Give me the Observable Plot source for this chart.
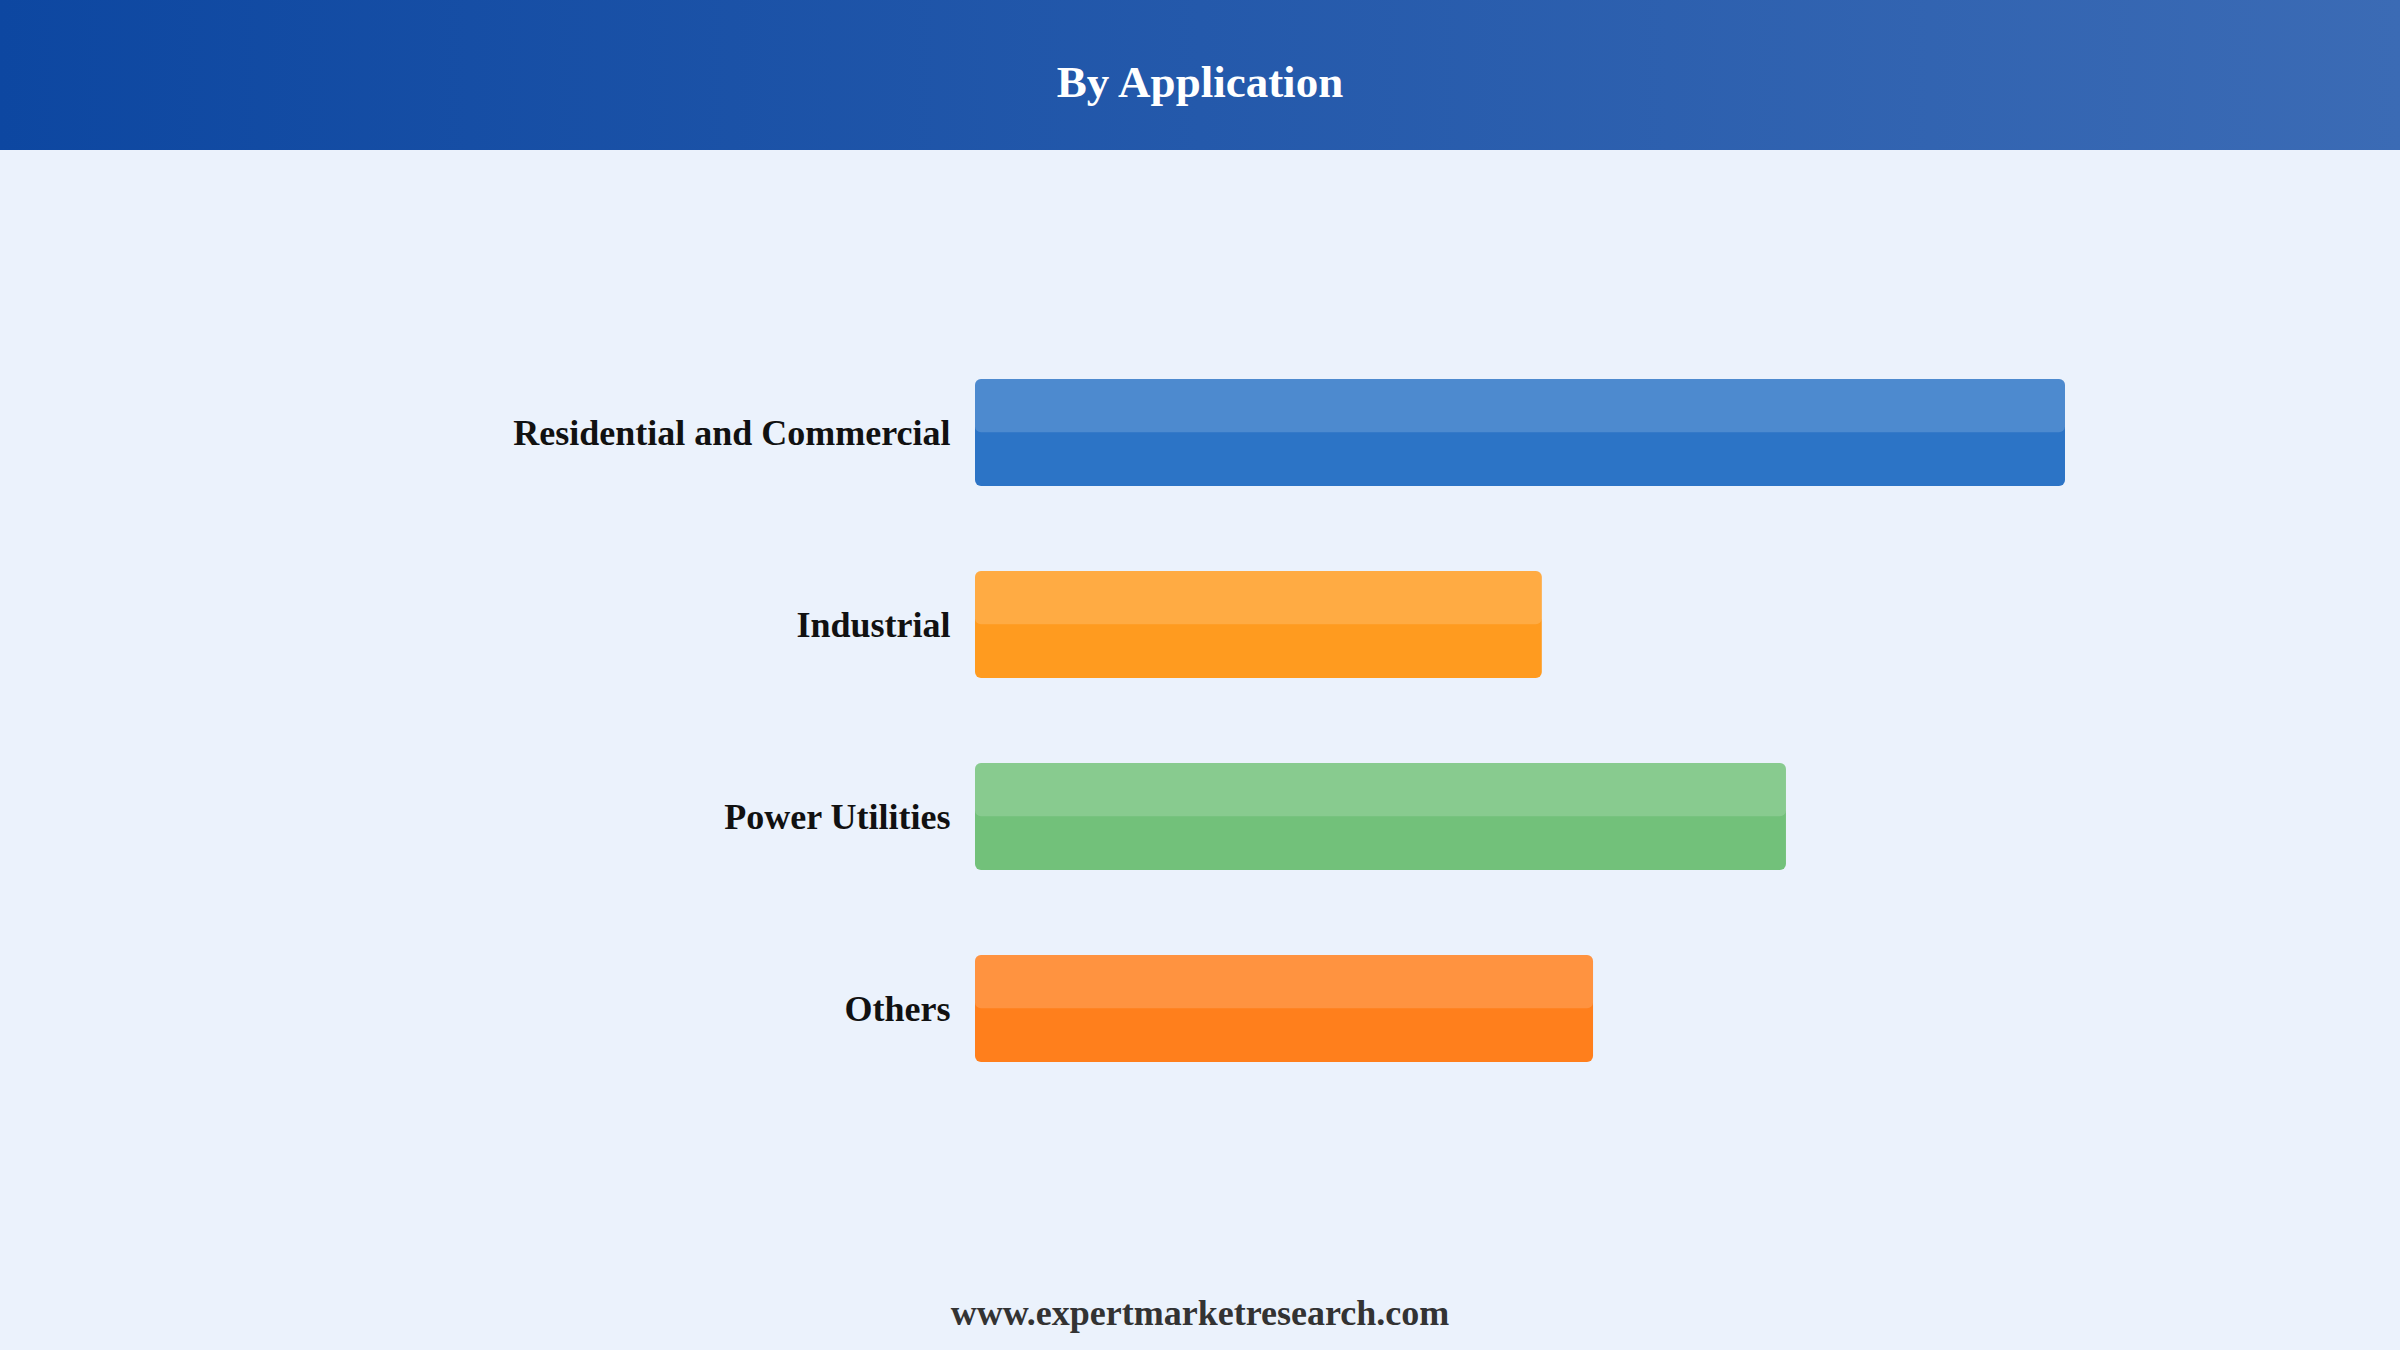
<!DOCTYPE html>
<html>
<head>
<meta charset="utf-8">
<script src="https://cdn.jsdelivr.net/npm/d3@7"></script>
<script src="https://cdn.jsdelivr.net/npm/@observablehq/plot@0.6"></script>
<style>
  html, body { margin: 0; padding: 0; }
  body { width: 2400px; height: 1350px; background: #ebf2fc; overflow: hidden;
         font-family: "Liberation Serif", "Times New Roman", serif; }
  #header { height: 150px; background: linear-gradient(to right, #0d47a1, #3b6bb5);
            display: flex; align-items: center; justify-content: center; }
  #header h1 { margin: 0; color: #fff; font-size: 45px; font-weight: bold; line-height: 1; padding-top: 14px; }
  #chart { height: 1100px; }
  #footer { text-align: center; font-size: 36px; font-weight: bold; color: #333; margin-top: 42px; }
</style>
</head>
<body>
<div id="header"><h1>By Application</h1></div>
<div id="chart"></div>
<div id="footer">www.expertmarketresearch.com</div>
<script>
const categories = ["Residential and Commercial", "Industrial", "Power Utilities", "Others"];
const values = [100, 52.0, 74.4, 56.7];
const colors = ["#2c74c6", "#ff9b1f", "#72c17a", "#ff7f1c"];

const data = categories.map((c, i) => ({category: c, value: values[i], color: colors[i]}));

const chart = Plot.plot({
  width: 2400,
  height: 1100,
  marginLeft: 975,
  marginRight: 335,
  marginTop: 143,
  marginBottom: 102,
  style: {background: "transparent", fontFamily: "'Liberation Serif', 'Times New Roman', serif"},
  x: {domain: [0, 100], axis: null},
  y: {domain: categories, padding: 0.442, axis: null},
  marks: [
    Plot.barX(data, {x: "value", y: "category", fill: "color", rx: 6}),
    Plot.barX(data, {x: "value", y: "category", fill: "white", fillOpacity: 0.16, rx: 6, insetBottom: 53.7}),
    Plot.text(data, {x: 0, y: "category", text: "category", textAnchor: "end", dx: -25,
                     fontSize: 36, fontWeight: "bold", fill: "#111"})
  ]
});
document.getElementById("chart").appendChild(chart);
</script>
</body>
</html>
